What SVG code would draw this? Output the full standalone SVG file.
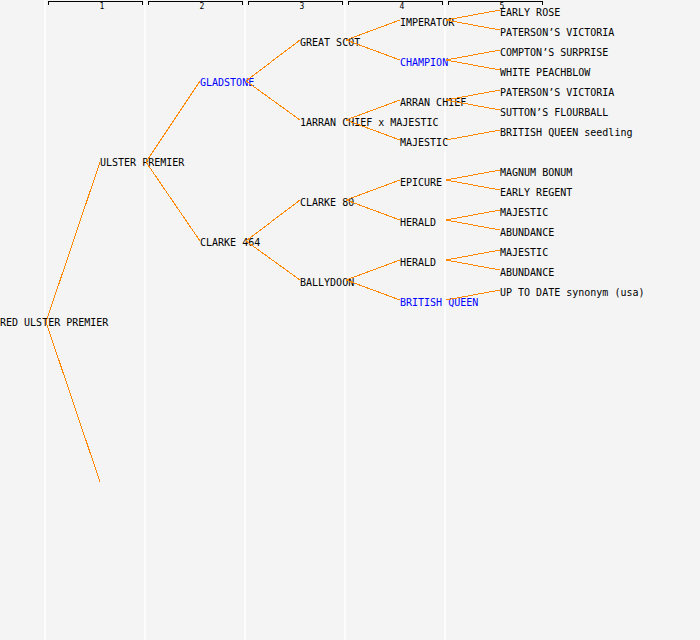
<svg xmlns="http://www.w3.org/2000/svg" width="700" height="640" viewBox="0 0 700 640">
<style>
text{font-family:"DejaVu Sans Mono","Liberation Mono",monospace;font-size:10px;fill:#000}
.b{fill:#0000ff}
.num{font-size:8px;text-anchor:middle}
.col{stroke:#ffffff;stroke-width:1.5}
.br{fill:none;stroke:#000;stroke-width:1;shape-rendering:crispEdges}
#connectors line{stroke:#ff8800;stroke-width:1;shape-rendering:crispEdges}
</style>
<rect width="700" height="640" fill="#f4f4f4"/>
<g id="columns">
<line class="col" x1="45" y1="0" x2="45" y2="640"/>
<line class="col" x1="145" y1="0" x2="145" y2="640"/>
<line class="col" x1="245" y1="0" x2="245" y2="640"/>
<line class="col" x1="345" y1="0" x2="345" y2="640"/>
<line class="col" x1="445" y1="0" x2="445" y2="640"/>
</g>
<g id="header">
<path class="br" d="M48.5,4.5V1.5H142.5V4.5"/>
<path class="br" d="M148.5,4.5V1.5H242.5V4.5"/>
<path class="br" d="M248.5,4.5V1.5H342.5V4.5"/>
<path class="br" d="M348.5,4.5V1.5H442.5V4.5"/>
<path class="br" d="M448.5,4.5V1.5H542.5V4.5"/>
<text class="num" x="102" y="9">1</text>
<text class="num" x="202" y="9">2</text>
<text class="num" x="302" y="9">3</text>
<text class="num" x="402" y="9">4</text>
<text class="num" x="502" y="9">5</text>
</g>
<g id="n0"><text x="0" y="326">RED ULSTER PREMIER</text></g>
<g id="n1"><text x="100" y="166">ULSTER PREMIER</text></g>
<g id="n2"><text class="b" x="200" y="86">GLADSTONE</text></g>
<g id="n3"><text x="200" y="246">CLARKE 464</text></g>
<g id="n4"><text x="300" y="46">GREAT SCOT</text></g>
<g id="n5"><text x="300" y="126">1ARRAN CHIEF x MAJESTIC</text></g>
<g id="n6"><text x="300" y="206">CLARKE 80</text></g>
<g id="n7"><text x="300" y="286">BALLYDOON</text></g>
<g id="n8"><text x="400" y="26">IMPERATOR</text></g>
<g id="n9"><text class="b" x="400" y="66">CHAMPION</text></g>
<g id="n10"><text x="400" y="106">ARRAN CHIEF</text></g>
<g id="n11"><text x="400" y="146">MAJESTIC</text></g>
<g id="n12"><text x="400" y="186">EPICURE</text></g>
<g id="n13"><text x="400" y="226">HERALD</text></g>
<g id="n14"><text x="400" y="266">HERALD</text></g>
<g id="n15"><text class="b" x="400" y="306">BRITISH QUEEN</text></g>
<g id="n16"><text x="500" y="16">EARLY ROSE</text></g>
<g id="n17"><text x="500" y="36">PATERSON’S VICTORIA</text></g>
<g id="n18"><text x="500" y="56">COMPTON’S SURPRISE</text></g>
<g id="n19"><text x="500" y="76">WHITE PEACHBLOW</text></g>
<g id="n20"><text x="500" y="96">PATERSON’S VICTORIA</text></g>
<g id="n21"><text x="500" y="116">SUTTON’S FLOURBALL</text></g>
<g id="n22"><text x="500" y="136">BRITISH QUEEN seedling</text></g>
<g id="n23"><text x="500" y="176">MAGNUM BONUM</text></g>
<g id="n24"><text x="500" y="196">EARLY REGENT</text></g>
<g id="n25"><text x="500" y="216">MAJESTIC</text></g>
<g id="n26"><text x="500" y="236">ABUNDANCE</text></g>
<g id="n27"><text x="500" y="256">MAJESTIC</text></g>
<g id="n28"><text x="500" y="276">ABUNDANCE</text></g>
<g id="n29"><text x="500" y="296">UP TO DATE synonym (usa)</text></g>
<g id="connectors">
<line x1="46" y1="322" x2="100" y2="162"/>
<line x1="46" y1="322" x2="100" y2="482"/>
<line x1="146" y1="162" x2="200" y2="81"/>
<line x1="146" y1="162" x2="200" y2="241"/>
<line x1="246" y1="81" x2="300" y2="40"/>
<line x1="246" y1="81" x2="300" y2="120"/>
<line x1="246" y1="241" x2="300" y2="200"/>
<line x1="246" y1="241" x2="300" y2="280"/>
<line x1="346" y1="40" x2="400" y2="20"/>
<line x1="346" y1="40" x2="400" y2="60"/>
<line x1="346" y1="120" x2="400" y2="100"/>
<line x1="346" y1="120" x2="400" y2="140"/>
<line x1="346" y1="200" x2="400" y2="180"/>
<line x1="346" y1="200" x2="400" y2="220"/>
<line x1="346" y1="280" x2="400" y2="260"/>
<line x1="346" y1="280" x2="400" y2="300"/>
<line x1="446" y1="20" x2="500" y2="10"/>
<line x1="446" y1="20" x2="500" y2="30"/>
<line x1="446" y1="60" x2="500" y2="50"/>
<line x1="446" y1="60" x2="500" y2="70"/>
<line x1="446" y1="100" x2="500" y2="90"/>
<line x1="446" y1="100" x2="500" y2="110"/>
<line x1="446" y1="140" x2="500" y2="130"/>
<line x1="446" y1="180" x2="500" y2="170"/>
<line x1="446" y1="180" x2="500" y2="190"/>
<line x1="446" y1="220" x2="500" y2="210"/>
<line x1="446" y1="220" x2="500" y2="230"/>
<line x1="446" y1="260" x2="500" y2="250"/>
<line x1="446" y1="260" x2="500" y2="270"/>
<line x1="446" y1="300" x2="500" y2="290"/>
</g>
</svg>
